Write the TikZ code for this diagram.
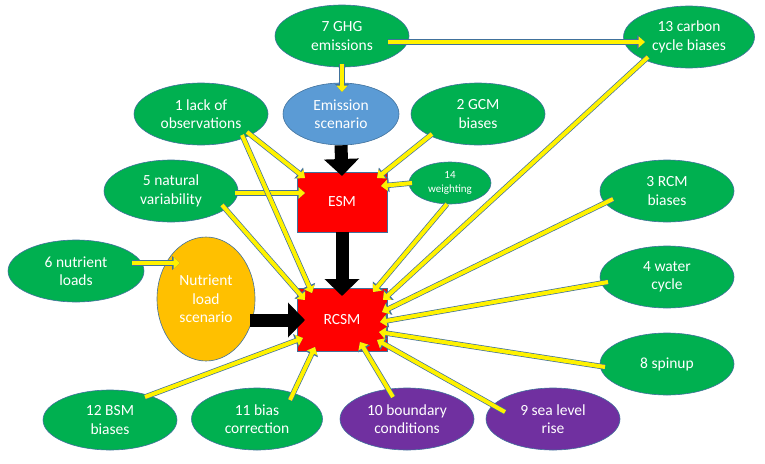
\documentclass[tikz,border=0pt]{standalone}
\usepackage{fontspec}
\setmainfont{Carlito}
\usetikzlibrary{shapes.geometric,arrows.meta,positioning}
\definecolor{offgreen}{RGB}{0,176,80}
\definecolor{offblue}{RGB}{91,155,213}
\definecolor{offorange}{RGB}{255,192,0}
\definecolor{offpurple}{RGB}{112,48,160}
\definecolor{edgeblue}{RGB}{65,113,156}
\tikzset{
  bubble/.style={ellipse, draw=edgeblue, line width=0.6pt, fill=offgreen, text=white,
    align=center, inner sep=0pt, minimum width=134pt, minimum height=62pt,
    font=\fontsize{15.5}{18.5}\selectfont},
  model/.style={rectangle, draw=edgeblue, line width=0.6pt, fill=red, text=white,
    inner sep=0pt, minimum width=90pt, font=\fontsize{15.5}{18.5}\selectfont},
  feed/.style={draw=yellow, line width=4pt, -{Triangle[length=6.5pt,width=11pt]},
    preaction={draw=edgeblue, line width=5.4pt, -{Triangle[length=8pt,width=13.5pt]}}},
  bigarrow/.style={draw=black, line width=13pt, -{Triangle[length=17pt,width=34pt]}}
}
\begin{document}
\begin{tikzpicture}[x=1pt,y=-1pt]
   \useasboundingbox (0,0) rectangle (765,463);
   % models
   \node [model,minimum height=60pt] (ESM) at (342,202) {ESM};
   \node [model,minimum height=63pt] (RCSM) at (342,320) {RCSM};
   % scenarios
   \node [bubble,fill=offblue,minimum width=116pt] (ES) at (341,114) {Emission\\scenario};
   \node [bubble,fill=offorange,minimum width=98pt,minimum height=124pt] (NLS) at (206,299) {Nutrient\\load\\scenario};
   % sources of uncertainty
   \node [bubble] (N_7) at (342,36) {7 GHG\\emissions};
   \node [bubble,minimum width=131pt] (N_13) at (689,37) {13 carbon\\cycle biases};
   \node [bubble] (N_1) at (201,114) {1 lack of\\observations};
   \node [bubble] (N_2) at (478,114) {2 GCM\\biases};
   \node [bubble] (N_5) at (171,191) {5 natural\\variability};
   \node [bubble,minimum width=82pt,minimum height=42pt,font=\fontsize{11}{13.5}\selectfont] (N_14) at (450,183) {14\\weighting};
   \node [bubble] (N_3) at (667,191) {3 RCM\\biases};
   \node [bubble,minimum width=136pt] (N_6) at (76,271) {6 nutrient\\loads};
   \node [bubble] (N_4) at (667,277) {4 water\\cycle};
   \node [bubble] (N_8) at (667,364) {8 spinup};
   \node [bubble,minimum height=60pt] (N_12) at (110,420) {12 BSM\\biases};
   \node [bubble,minimum width=131pt] (N_11) at (257,419) {11 bias\\correction};
   \node [bubble,fill=offpurple] (N_10) at (407,419) {10 boundary\\conditions};
   \node [bubble,fill=offpurple] (N_9) at (553,419) {9 sea level\\rise};
   % model chain
   \draw [bigarrow] (ES.south) -- ([shift={(0,-26)}]ESM.center);
   \draw [bigarrow] (ESM.south) -- ([shift={(0,-24)}]RCSM.center);
   \draw [bigarrow] ([shift={(44,21)}]NLS.center) -- ([shift={(-37,0)}]RCSM.center);
   % inputs
   \draw [feed] ([shift={(0,28)}]N_7.center) -- ([shift={(1,-22)}]ES.center);
   \draw [feed] ([shift={(46,6)}]N_7.center) -- ([shift={(-44,5)}]N_13.center);
   \draw [feed] ([shift={(56,-8)}]N_6.center) -- ([shift={(-26,-36)}]NLS.center);
   \draw [feed] ([shift={(46,18)}]N_1.center) -- ([shift={(-37,-24)}]ESM.center);
   \draw [feed] ([shift={(64,2)}]N_5.center) -- ([shift={(-37,-9)}]ESM.center);
   \draw [feed] ([shift={(-46,20)}]N_2.center) -- ([shift={(35,-24)}]ESM.center);
   \draw [feed] ([shift={(-38,0)}]N_14.center) -- ([shift={(39,-16)}]ESM.center);
   \draw [feed] ([shift={(41,21)}]N_1.center) -- ([shift={(-30,-27)}]RCSM.center);
   \draw [feed] ([shift={(51,14)}]N_5.center) -- ([shift={(-37,-20)}]RCSM.center);
   \draw [feed] ([shift={(-3,21)}]N_14.center) -- ([shift={(31,-28)}]RCSM.center);
   \draw [feed] ([shift={(-41,20)}]N_13.center) -- ([shift={(41,-20)}]RCSM.center);
   \draw [feed] ([shift={(-54,8)}]N_3.center) -- ([shift={(40,-8)}]RCSM.center);
   \draw [feed] ([shift={(-59,5)}]N_4.center) -- ([shift={(38,2)}]RCSM.center);
   \draw [feed] ([shift={(-62,3)}]N_8.center) -- ([shift={(37,12)}]RCSM.center);
   \draw [feed] ([shift={(-48,-7)}]N_9.center) -- ([shift={(35,20)}]RCSM.center);
   \draw [feed] ([shift={(-14,-22)}]N_10.center) -- ([shift={(18,22)}]RCSM.center);
   \draw [feed] ([shift={(33,-19)}]N_11.center) -- ([shift={(-27,27)}]RCSM.center);
   \draw [feed] ([shift={(35,-23)}]N_12.center) -- ([shift={(-39,18)}]RCSM.center);
\end{tikzpicture}
\end{document}
